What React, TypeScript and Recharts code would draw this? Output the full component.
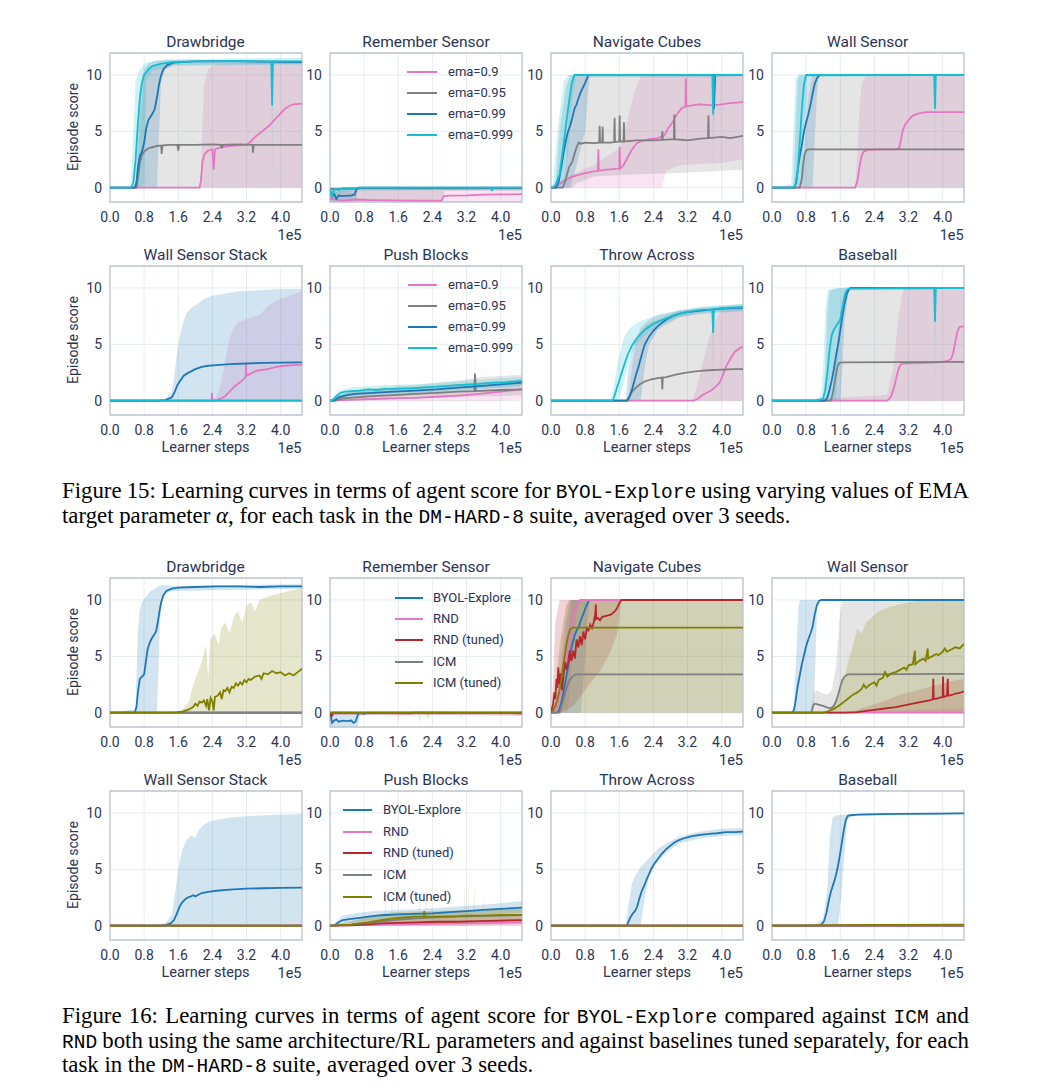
import React from 'react';
import { ComposedChart, Line, Area, XAxis, YAxis, CartesianGrid, ReferenceArea } from 'recharts';

type LP = [number, number][];
type BP = [number, number, number][];

// ---------- categories / tick labels ----------
const X_TICKS = [0, 0.8, 1.6, 2.4, 3.2, 4.0];
const Y_TICKS = [0, 5, 10];
const TITLES = ['Drawbridge', 'Remember Sensor', 'Navigate Cubes', 'Wall Sensor', 'Wall Sensor Stack', 'Push Blocks', 'Throw Across', 'Baseball'];
const EMA_LABELS = ['ema=0.9', 'ema=0.95', 'ema=0.99', 'ema=0.999'];
const METHOD_LABELS = ['BYOL-Explore', 'RND', 'RND (tuned)', 'ICM', 'ICM (tuned)'];
const EMA_COLORS = ['#e377c2', '#7f7f7f', '#1f77b4', '#17becf'];
const METHOD_COLORS = ['#1f77b4', '#e377c2', '#b5272d', '#7f7f7f', '#808000'];

const ZERO_L: LP = [[0, 0], [4.5, 0]];

// ================= Figure 15 =================
// Drawbridge
const DB15_PK: LP = [[0,0],[2.1,0],[2.13,0.6],[2.17,2.4],[2.22,3.0],[2.3,3.3],[2.4,3.4],[2.43,1.6],[2.46,3.4],[2.6,3.6],[2.8,3.7],[3.0,3.75],[3.2,3.8],[3.3,4.1],[3.4,4.5],[3.5,4.8],[3.6,5.1],[3.7,5.4],[3.8,5.8],[3.9,6.2],[4.0,6.6],[4.1,7.0],[4.2,7.25],[4.3,7.4],[4.5,7.45]];
const DB15_PK_B: BP = [[0,0,0],[2.12,0,0],[2.16,0,5],[2.2,0,9],[2.3,0,10.5],[2.5,0,11],[4.5,0,11.1]];
const DB15_GR: LP = [[0,0],[0.62,0],[0.66,1.0],[0.7,2.2],[0.75,2.9],[0.8,3.2],[0.9,3.5],[1.0,3.6],[1.1,3.7],[1.2,3.75],[1.21,3.0],[1.23,3.75],[1.4,3.8],[1.58,3.8],[1.6,3.3],[1.62,3.8],[2.0,3.8],[2.4,3.85],[2.6,3.8],[2.62,3.5],[2.64,3.8],[3.0,3.85],[3.34,3.8],[3.35,3.1],[3.37,3.8],[4.0,3.8],[4.5,3.8]];
const DB15_GR_B: BP = [[0,0,0],[0.62,0,0],[0.7,0,6],[0.8,0,10],[0.9,0,10.8],[1.2,0,11],[4.5,0,11.1]];
const DB15_BL: LP = [[0,0],[0.58,0],[0.62,0.5],[0.66,2.0],[0.7,2.8],[0.75,3.2],[0.8,4.0],[0.85,5.3],[0.9,6.0],[0.95,6.3],[1.0,6.6],[1.05,7.0],[1.1,8.0],[1.15,9.2],[1.2,10.0],[1.25,10.5],[1.35,10.9],[1.5,11.1],[2.0,11.2],[3.0,11.2],[4.5,11.15]];
const DB15_BL_B: BP = [[0,0,0],[0.6,0,0],[0.65,0,5],[0.7,0,9],[0.8,0,10.5],[0.9,0,11],[1.0,0,11.2],[1.1,0,11.3],[1.15,5,11.3],[1.2,9.5,11.3],[1.3,10.5,11.4],[1.5,10.9,11.3],[4.5,11.0,11.3]];
const DB15_CY: LP = [[0,0],[0.5,0],[0.55,0.5],[0.6,2.5],[0.65,5.5],[0.7,8.0],[0.75,9.3],[0.8,10.0],[0.9,10.5],[1.0,10.8],[1.2,11.0],[1.5,11.15],[2.0,11.2],[3.0,11.25],[3.78,11.2],[3.8,7.3],[3.82,11.2],[4.5,11.2]];
const DB15_CY_B: BP = [[0,0,0],[0.48,0,0],[0.55,0,5],[0.6,0,9.5],[0.7,0,10.5],[0.8,0.5,11],[0.85,9.5,11.1],[1.0,10.4,11.2],[1.5,10.8,11.4],[3.78,10.9,11.5],[3.8,0,11.4],[3.82,10.9,11.5],[4.5,10.9,11.5]];

// Remember Sensor
const RS15_PK: LP = [[0,-1.0],[0.3,-1.15],[0.6,-1.05],[1.0,-1.1],[2.0,-1.15],[2.62,-1.15],[2.66,-0.75],[2.8,-0.7],[3.2,-0.68],[3.6,-0.62],[4.0,-0.6],[4.5,-0.58]];
const RS15_PK_B: BP = [[0,-1.3,-0.5],[0.3,-1.3,-0.3],[1.5,-1.3,-0.2],[1.6,-1.3,0],[4.5,-1.3,0]];
const RS15_GR: LP = [[0,-0.1],[0.6,-0.1],[0.7,-0.05],[4.5,-0.05]];
const RS15_GR_B: BP = [[0,-1.3,0],[2.6,-1.3,0],[2.7,-0.3,0],[4.5,-0.3,0]];
const RS15_BL: LP = [[0,-0.3],[0.05,-0.8],[0.1,-0.6],[0.15,-1.0],[0.2,-0.7],[0.3,-0.75],[0.4,-0.7],[0.5,-0.7],[0.58,-0.6],[0.62,-0.1],[0.7,0],[4.5,0]];
const RS15_BL_B: BP = [[0,-1.3,0],[0.6,-1.3,0],[0.65,-0.3,0],[4.5,-0.1,0.05]];
const RS15_CY: LP = [[0,-0.2],[0.05,-0.9],[0.08,-0.3],[0.12,-0.1],[0.2,-0.2],[0.3,-0.05],[0.6,-0.05],[0.65,0],[3.79,0],[3.8,-0.3],[3.81,0],[4.5,0]];
const RS15_CY_B: BP = [[0,-1.0,0],[0.3,-0.4,0.05],[0.65,-0.1,0.05],[4.5,-0.1,0.05]];

// Navigate Cubes
const NC15_PK: LP = [[0,0],[0.1,0.05],[0.2,0.3],[0.3,0.6],[0.45,0.9],[0.6,1.1],[0.8,1.3],[1.0,1.45],[1.1,1.5],[1.11,3.4],[1.12,1.5],[1.3,1.6],[1.45,1.65],[1.6,1.7],[1.61,3.6],[1.62,1.7],[1.7,2.0],[1.8,2.7],[1.9,3.4],[2.0,3.9],[2.1,4.1],[2.3,4.3],[2.5,4.4],[2.65,4.6],[2.75,5.3],[2.85,5.8],[2.95,6.5],[3.05,7.0],[3.15,7.2],[3.16,9.7],[3.17,7.2],[3.3,7.3],[3.5,7.4],[3.8,7.3],[4.0,7.4],[4.2,7.5],[4.5,7.6]];
const NC15_PK_B: BP = [[0,0,0.1],[0.5,0,1.2],[1.0,0,2.0],[1.6,0,3.5],[1.8,0,6.0],[1.95,0,8.5],[2.1,0,9.8],[2.2,0,10],[2.6,0,10],[2.7,1.5,10],[3.0,2.0,10],[3.5,2.1,10],[4.0,2.2,10],[4.5,2.5,10]];
const NC15_GR: LP = [[0,0],[0.28,0],[0.35,0.8],[0.42,1.8],[0.5,2.3],[0.55,3.0],[0.6,3.6],[0.65,4.0],[0.7,3.9],[0.8,4.0],[1.0,3.95],[1.13,4.0],[1.14,5.5],[1.15,4.0],[1.2,4.0],[1.21,5.4],[1.22,4.0],[1.4,4.0],[1.48,4.05],[1.49,6.2],[1.5,4.05],[1.6,4.1],[1.61,6.4],[1.62,4.1],[1.7,4.1],[1.71,5.8],[1.72,4.1],[2.0,4.2],[2.4,4.2],[2.6,4.25],[2.61,5.0],[2.62,4.25],[2.88,4.3],[2.89,6.5],[2.9,4.3],[3.2,4.2],[3.5,4.35],[3.68,4.4],[3.69,6.4],[3.7,4.4],[4.0,4.5],[4.2,4.4],[4.5,4.6]];
const NC15_GR_B: BP = [[0,0,0],[0.28,0,0],[0.35,0,2],[0.42,0,7],[0.5,0,10],[0.6,0.4,10],[1.0,1.0,10],[2.0,1.2,10],[3.0,1.3,10],[4.0,1.5,10],[4.5,1.6,10]];
const NC15_BL: LP = [[0,0],[0.12,0],[0.18,0.5],[0.25,2],[0.3,3.2],[0.35,4.2],[0.4,5.0],[0.45,5.5],[0.5,6.2],[0.55,7.0],[0.6,7.4],[0.65,8.0],[0.7,8.5],[0.8,9.3],[0.88,10],[3.8,10],[3.82,7.0],[3.85,10],[4.5,10]];
const NC15_BL_B: BP = [[0,0,0],[0.1,0,0],[0.2,0,5],[0.35,0,9],[0.45,0,10],[0.6,2,10],[0.8,5,10],[0.9,9.8,10],[3.8,9.8,10.1],[3.82,5,10],[3.85,9.8,10.1],[4.5,9.9,10.1]];
const NC15_CY: LP = [[0,0],[0.05,0],[0.1,0.2],[0.2,1.2],[0.3,4],[0.4,7],[0.48,9.2],[0.55,10],[3.78,10],[3.8,6.5],[3.82,9.8],[3.85,10],[4.5,10]];
const NC15_CY_B: BP = [[0,0,0],[0.05,0,0.5],[0.15,0,5],[0.3,0,9.5],[0.4,3,10],[0.5,8,10],[0.6,9.9,10.1],[3.78,9.9,10.1],[3.8,0.1,10],[3.82,9.9,10.1],[4.5,9.9,10.1]];

// Wall Sensor
const WS15_PK: LP = [[0,0],[1.95,0],[2.0,0.6],[2.05,1.8],[2.1,2.8],[2.15,3.2],[2.25,3.35],[2.5,3.4],[2.9,3.4],[2.98,3.5],[3.02,4.2],[3.06,5.0],[3.12,5.6],[3.2,6.0],[3.3,6.4],[3.45,6.6],[3.6,6.7],[4.5,6.7]];
const WS15_PK_B: BP = [[0,0,0],[1.95,0,0],[2.0,0,3],[2.05,0,7],[2.1,0,9.2],[2.2,0,9.9],[4.5,0,10]];
const WS15_GR: LP = [[0,0],[0.65,0],[0.7,0.8],[0.73,2.0],[0.76,2.9],[0.8,3.3],[0.85,3.4],[4.5,3.4]];
const WS15_GR_B: BP = [[0,0,0],[0.65,0,0],[0.75,0,3],[0.85,0,8],[0.95,0,10],[4.5,0,10]];
const WS15_BL: LP = [[0,0],[0.52,0],[0.57,0.5],[0.6,1.5],[0.65,2.8],[0.7,3.8],[0.75,5.0],[0.8,5.8],[0.85,6.5],[0.9,7.3],[0.95,8.3],[1.0,9.2],[1.05,9.7],[1.12,10],[4.5,10]];
const WS15_BL_B: BP = [[0,0,0],[0.5,0,0],[0.55,0,5],[0.6,0,9.5],[0.65,0,10],[0.95,0,10],[1.0,4,10],[1.05,8,10],[1.1,9.9,10.05],[4.5,9.95,10.05]];
const WS15_CY: LP = [[0,0],[0.5,0],[0.55,0.3],[0.6,1.5],[0.65,4],[0.7,7],[0.75,9.2],[0.8,10],[3.8,10],[3.82,7],[3.84,10],[4.5,10]];
const WS15_CY_B: BP = [[0,0,0],[0.45,0,0.3],[0.5,0,5],[0.55,0,9.5],[0.6,0,10],[0.7,0.5,10.05],[0.75,5,10.05],[0.82,9.8,10.05],[3.8,9.9,10.05],[3.82,1,10],[3.84,9.9,10.05],[4.5,9.9,10.05]];

// Wall Sensor Stack
const WSS15_PK: LP = [[0,0],[2.38,0],[2.39,0.7],[2.4,0],[2.5,0.02],[2.6,0.2],[2.7,0.4],[2.8,0.8],[2.9,1.2],[3.0,1.5],[3.1,1.8],[3.18,2.1],[3.19,3.3],[3.2,2.2],[3.3,2.4],[3.4,2.6],[3.5,2.7],[3.7,2.8],[3.9,3.0],[4.1,3.1],[4.3,3.15],[4.5,3.2]];
const WSS15_PK_B: BP = [[0,0,0],[2.3,0,0],[2.5,0,0.3],[2.6,0,1.5],[2.7,0,3.5],[2.8,0,5.5],[2.9,0,6.5],[3.0,0,7.0],[3.1,0,7.1],[3.3,0,7.4],[3.5,0,7.6],[3.7,0,8.4],[3.9,0,8.9],[4.2,0,9.3],[4.5,0,9.7]];
const WSS15_BL: LP = [[0,0],[1.1,0],[1.3,0.05],[1.45,0.3],[1.52,0.8],[1.58,1.4],[1.65,1.8],[1.72,2.2],[1.8,2.4],[1.9,2.6],[2.0,2.8],[2.15,3.0],[2.3,3.1],[2.5,3.15],[2.8,3.25],[3.2,3.3],[3.6,3.35],[4.0,3.38],[4.5,3.4]];
const WSS15_BL_B: BP = [[0,0,0],[1.1,0,0],[1.3,0,0.2],[1.45,0,0.8],[1.5,0,2.0],[1.58,0,4.5],[1.65,0,6.0],[1.72,0,7.0],[1.8,0,7.8],[1.9,0,8.2],[2.05,0,8.6],[2.2,0,9.0],[2.4,0,9.3],[2.7,0,9.5],[3.0,0,9.7],[3.5,0,9.8],[4.0,0,9.9],[4.5,0,9.9]];

// Push Blocks
const PB15_PK: LP = [[0,0],[0.1,0],[0.3,0.05],[0.6,0.1],[1.0,0.15],[1.5,0.2],[2.0,0.25],[2.5,0.35],[3.0,0.45],[3.5,0.6],[4.0,0.8],[4.5,1.0]];
const PB15_PK_B: BP = [[0,0,0],[0.1,0,0.2],[1.0,0,0.5],[2.0,0,0.6],[3.0,0,0.8],[4.0,0,1.1],[4.5,0.1,1.4]];
const PB15_GR: LP = [[0,0],[0.1,0],[0.3,0.2],[0.6,0.3],[1.0,0.4],[1.5,0.5],[2.0,0.6],[2.5,0.7],[3.0,0.8],[3.38,0.85],[3.4,2.4],[3.42,0.85],[4.0,0.95],[4.5,1.0]];
const PB15_GR_B: BP = [[0,0,0],[0.1,0,0.3],[0.5,0,0.9],[1.0,0.1,1.1],[1.29,0.1,1.2],[1.3,0.1,2.2],[1.31,0.1,1.2],[1.55,0.2,1.3],[1.56,0.2,2.0],[1.57,0.2,1.3],[2.0,0.2,1.4],[2.5,0.3,1.6],[3.0,0.3,1.8],[3.39,0.4,2.0],[3.4,0.4,4.3],[3.41,0.4,2.0],[3.56,0.4,2.1],[3.57,0.4,2.6],[3.58,0.4,2.1],[4.0,0.4,2.2],[4.5,0.5,2.3]];
const PB15_BL: LP = [[0,0],[0.1,0],[0.2,0.3],[0.4,0.5],[0.6,0.6],[0.8,0.65],[1.0,0.7],[1.5,0.8],[2.0,0.9],[2.5,1.0],[3.0,1.15],[3.5,1.3],[4.0,1.45],[4.5,1.6]];
const PB15_BL_B: BP = [[0,0,0],[0.1,0,0.2],[0.4,0.2,0.8],[1.0,0.4,1.0],[2.0,0.6,1.2],[3.0,0.85,1.45],[4.0,1.15,1.75],[4.5,1.3,1.9]];
const PB15_CY: LP = [[0,0],[0.05,0],[0.15,0.4],[0.25,0.7],[0.35,0.8],[0.5,0.85],[0.7,0.9],[0.9,1.0],[1.1,0.95],[1.3,1.05],[1.5,1.05],[1.7,1.1],[1.9,1.1],[2.1,1.15],[2.3,1.2],[2.5,1.25],[2.7,1.3],[2.9,1.35],[3.1,1.4],[3.3,1.45],[3.5,1.5],[3.7,1.55],[3.9,1.6],[4.1,1.6],[4.3,1.7],[4.5,1.75]];
const PB15_CY_B: BP = [[0,0,0],[0.05,0,0.2],[0.2,0.2,0.9],[0.5,0.5,1.2],[1.0,0.6,1.35],[2.0,0.75,1.45],[3.0,1.0,1.7],[4.0,1.2,2.0],[4.5,1.35,2.1]];

// Throw Across
const TA15_PK: LP = [[0,0],[3.35,0],[3.45,0.2],[3.55,0.5],[3.65,0.7],[3.75,0.9],[3.85,1.2],[3.95,1.6],[4.0,2.0],[4.05,2.5],[4.1,3.0],[4.2,3.7],[4.3,4.3],[4.4,4.6],[4.5,4.8]];
const TA15_PK_B: BP = [[0,0,0],[3.3,0,0],[3.4,0,1],[3.5,0,2.5],[3.6,0,4],[3.7,0,5.5],[3.8,0,6.5],[3.9,0,7.5],[4.0,0,8.0],[4.2,0,8.3],[4.5,0,8.4]];
const TA15_GR: LP = [[0,0],[1.8,0],[1.85,0.4],[1.9,0.8],[2.0,1.2],[2.1,1.5],[2.2,1.7],[2.35,1.9],[2.5,2.0],[2.6,2.05],[2.61,1.0],[2.62,2.05],[2.7,2.1],[2.9,2.3],[3.1,2.45],[3.3,2.55],[3.5,2.65],[3.7,2.7],[4.0,2.75],[4.3,2.8],[4.5,2.8]];
const TA15_GR_B: BP = [[0,0,0],[1.8,0,0],[1.9,0,3],[2.0,0,5.5],[2.1,0,6.5],[2.3,0,7.2],[2.5,0,7.6],[3.0,0,8.0],[3.5,0,8.1],[4.5,0,8.2]];
const TA15_BL: LP = [[0,0],[1.78,0],[1.85,0.5],[1.9,1.0],[1.95,1.7],[2.0,2.4],[2.05,3.0],[2.1,3.7],[2.15,4.4],[2.2,5.0],[2.3,5.7],[2.4,6.2],[2.5,6.6],[2.6,6.9],[2.7,7.2],[2.85,7.5],[3.0,7.7],[3.2,7.85],[3.5,8.0],[3.8,8.1],[4.1,8.2],[4.5,8.25]];
const TA15_BL_B: BP = [[0,0,0],[1.75,0,0],[1.8,0,2.5],[1.9,0,4.5],[2.0,0,5.5],[2.1,0,6.2],[2.2,3,6.6],[2.3,5,6.9],[2.5,6.3,7.2],[3.0,7.4,8.0],[3.5,7.7,8.3],[4.5,7.95,8.55]];
const TA15_CY: LP = [[0,0],[1.45,0],[1.5,0.6],[1.55,1.2],[1.6,1.8],[1.7,3.0],[1.8,4.1],[1.9,4.9],[2.0,5.5],[2.1,5.9],[2.2,6.3],[2.35,6.7],[2.5,7.0],[2.7,7.3],[2.9,7.6],[3.1,7.8],[3.3,7.95],[3.5,8.05],[3.78,8.1],[3.8,6.0],[3.82,8.1],[4.0,8.2],[4.2,8.25],[4.5,8.3]];
const TA15_CY_B: BP = [[0,0,0],[1.4,0,0],[1.5,0,2],[1.55,0,3],[1.6,0.3,4],[1.7,1.5,5.5],[1.8,3.0,6.2],[1.9,4.3,6.6],[2.0,5.0,6.9],[2.2,5.8,7.2],[2.5,6.6,7.6],[3.0,7.4,8.0],[3.5,7.8,8.3],[3.78,7.9,8.4],[3.8,0,8.4],[3.82,7.9,8.4],[4.5,8.0,8.6]];

// Baseball
const BB15_PK: LP = [[0,0],[2.7,0],[2.78,0.3],[2.85,1.0],[2.9,1.8],[2.95,2.6],[3.0,3.1],[3.05,3.3],[3.6,3.35],[3.9,3.4],[4.1,3.5],[4.2,3.7],[4.25,4.3],[4.3,5.3],[4.35,6.2],[4.4,6.55],[4.5,6.6]];
const BB15_PK_B: BP = [[0,0,0],[2.7,0,0.5],[2.85,0,3],[2.95,0,7],[3.05,0,9.5],[3.1,0,10],[4.5,0,10]];
const BB15_GR: LP = [[0,0],[1.38,0],[1.42,0.6],[1.46,1.4],[1.5,2.4],[1.54,3.1],[1.58,3.35],[1.65,3.4],[4.5,3.45]];
const BB15_GR_B: BP = [[0,0,0],[1.4,0,0],[1.5,0,4],[1.6,0,8],[1.7,0,9.8],[4.5,0,10]];
const BB15_BL: LP = [[0,0],[1.25,0],[1.3,0.3],[1.35,1.0],[1.4,1.8],[1.45,2.8],[1.5,4.0],[1.55,5.0],[1.6,6.2],[1.65,7.5],[1.7,8.6],[1.75,9.4],[1.8,9.85],[1.85,10],[4.5,10]];
const BB15_BL_B: BP = [[0,0,0],[1.2,0,0],[1.25,0,3],[1.3,0,8],[1.35,0,9.8],[1.6,0,10],[1.65,3,10],[1.7,7,10],[1.8,9.8,10.05],[4.5,9.95,10.05]];
const BB15_CY: LP = [[0,0],[1.0,0],[1.1,0.05],[1.2,0.2],[1.25,1.0],[1.3,2.5],[1.35,4.5],[1.4,5.8],[1.45,6.3],[1.5,6.6],[1.55,6.9],[1.6,7.2],[1.65,8.2],[1.7,9.3],[1.75,9.8],[1.8,9.95],[3.8,10],[3.82,7],[3.84,10],[4.5,10]];
const BB15_CY_B: BP = [[0,0,0],[1.0,0,0],[1.15,0,0.5],[1.2,0,3],[1.25,0,8],[1.3,0,9.8],[1.5,0,10],[1.55,3,10],[1.6,6,10],[1.7,9,10.05],[1.8,9.8,10.05],[3.8,9.9,10.05],[3.82,0.5,10],[3.84,9.9,10.05],[4.5,9.9,10.05]];

// ================= Figure 16 =================
// Drawbridge
const DB16_BY: LP = [[0,0],[0.58,0],[0.62,0.5],[0.66,2.0],[0.7,3.0],[0.75,3.2],[0.8,3.4],[0.84,4.5],[0.88,5.6],[0.93,6.2],[0.98,6.6],[1.03,6.9],[1.08,7.2],[1.12,8.0],[1.16,9.0],[1.2,9.8],[1.25,10.4],[1.32,10.8],[1.45,11.0],[1.6,11.1],[2.0,11.15],[2.5,11.2],[3.0,11.2],[3.5,11.15],[4.0,11.2],[4.5,11.2]];
const DB16_BY_B: BP = [[0,0,0],[0.6,0,0.3],[0.65,0,7],[0.7,0,9.2],[0.75,0,9.8],[0.85,0,10.3],[0.95,0,10.8],[1.1,0,11.1],[1.13,3,11.2],[1.17,8,11.3],[1.22,9.8,11.3],[1.3,10.6,11.3],[1.5,10.8,11.25],[4.5,11.0,11.4]];
const DB16_IT: LP = [[0,0],[1.5,0],[1.7,0.1],[1.85,0.3],[1.95,0.5],[2.0,0.8],[2.05,0.6],[2.1,1.0],[2.15,0.9],[2.2,1.1],[2.25,0.6],[2.28,1.2],[2.32,0.2],[2.36,1.3],[2.4,1.0],[2.43,0.2],[2.46,1.4],[2.52,1.5],[2.58,1.8],[2.62,1.2],[2.66,2.0],[2.7,1.9],[2.75,2.2],[2.8,1.8],[2.85,2.3],[2.9,2.2],[2.95,2.6],[3.0,2.4],[3.05,2.7],[3.1,2.5],[3.15,2.9],[3.2,2.7],[3.25,3.0],[3.3,2.9],[3.4,3.2],[3.5,3.3],[3.55,3.0],[3.6,3.5],[3.7,3.4],[3.8,3.7],[3.9,3.5],[4.0,3.6],[4.1,3.3],[4.2,3.5],[4.3,3.3],[4.4,3.6],[4.5,3.9]];
const DB16_IT_B: BP = [[0,0,0],[1.5,0,0],[1.7,0,0.3],[1.85,0,1.0],[1.95,0,2.5],[2.05,0,3.5],[2.15,0,4.5],[2.25,0,6.0],[2.3,0,3.0],[2.35,0,6.5],[2.45,0,7.0],[2.55,0,6.0],[2.6,0,7.5],[2.7,0,8.0],[2.8,0,7.0],[2.9,0,8.5],[3.0,0,9.0],[3.1,0,8.0],[3.2,0,9.5],[3.3,0,9.8],[3.4,0,9.0],[3.5,0,10.0],[3.7,0,10.3],[3.9,0,10.5],[4.1,0,10.7],[4.3,0,10.9],[4.5,0,11.0]];

// Remember Sensor
const RS16_BY: LP = [[0,0],[0.02,-0.3],[0.05,-0.9],[0.1,-0.7],[0.15,-0.6],[0.2,-0.8],[0.3,-0.7],[0.4,-0.75],[0.5,-0.7],[0.55,-0.9],[0.6,-0.8],[0.65,-0.2],[0.7,0],[0.8,-0.1],[0.85,0],[4.5,0]];
const RS16_BY_B: BP = [[0,-1.3,0],[0.65,-1.3,0],[0.7,-0.3,0],[1.0,-0.1,0.05],[4.5,-0.1,0.05]];
const RS16_RN_B: BP = [[0,-0.2,0.05],[4.5,-0.2,0.05]];
const RS16_RT: LP = [[0,0],[0.04,-0.3],[0.08,0],[1.9,-0.05],[2.0,0],[4.5,-0.05]];
const RS16_RT_B: BP = [[0,-0.6,0.1],[0.1,-0.2,0.05],[1.58,-0.2,0.05],[1.6,-0.7,0],[1.62,-0.2,0],[2.08,-0.2,0],[2.1,-0.9,0],[2.12,-0.2,0],[3.05,-0.2,0],[3.07,-0.5,0],[3.09,-0.2,0],[4.5,-0.3,0]];
const RS16_IT_B: BP = [[0,-0.1,0.05],[2.25,-0.1,0.05],[2.3,-0.6,0.05],[2.35,-0.1,0.05],[4.5,-0.1,0.05]];

// Navigate Cubes
const NC16_BY: LP = [[0,0],[0.15,0],[0.2,0.3],[0.28,1.5],[0.35,3.0],[0.42,4.5],[0.48,5.8],[0.55,6.8],[0.6,7.3],[0.65,7.6],[0.7,8.2],[0.75,8.7],[0.8,9.2],[0.88,9.9],[0.92,10],[4.5,10]];
const NC16_BY_B: BP = [[0,0,0],[0.1,0,0],[0.2,0,3],[0.35,0,8],[0.45,0,10],[0.7,0,10],[0.8,5,10],[0.9,10,10],[4.5,10,10]];
const NC16_RN: LP = [[0,0],[0.1,0.2],[0.2,1.5],[0.3,3.5],[0.4,5.5],[0.45,6.8],[0.5,8.0],[0.55,9.0],[0.62,9.7],[0.68,10],[4.5,10]];
const NC16_RN_B: BP = [[0,0,0],[0.1,0,1],[0.2,0,5],[0.3,0,8],[0.4,0,10],[0.5,5,10],[0.6,9,10],[0.7,10,10],[4.5,10,10]];
const NC16_RT: LP = [[0,0],[0.05,0.8],[0.08,1.8],[0.1,1.2],[0.13,3.0],[0.15,2.2],[0.17,4.0],[0.2,2.5],[0.23,3.5],[0.26,2.0],[0.3,3.6],[0.33,4.5],[0.36,3.8],[0.4,4.4],[0.44,5.5],[0.48,4.6],[0.52,5.5],[0.56,4.8],[0.6,6.5],[0.64,5.8],[0.68,6.8],[0.72,6.0],[0.76,7.2],[0.8,6.5],[0.84,7.5],[0.88,7.3],[0.92,7.8],[0.96,7.5],[1.0,8.0],[1.04,8.8],[1.05,9.6],[1.06,8.3],[1.1,8.4],[1.15,8.2],[1.2,8.5],[1.3,8.6],[1.4,8.7],[1.5,9.0],[1.55,9.3],[1.6,9.7],[1.65,10],[4.5,10]];
const NC16_RT_B: BP = [[0,0,0],[0.05,0,3],[0.1,0,8],[0.2,0,10],[0.5,0.5,10],[0.8,2,10],[1.0,3,10],[1.2,4,10],[1.4,5.5,10],[1.55,7,10],[1.65,10,10],[4.5,10,10]];
const NC16_IC: LP = [[0,0],[0.2,0],[0.28,1.0],[0.35,2.0],[0.42,2.8],[0.5,3.2],[0.58,3.4],[4.5,3.4]];
const NC16_IC_B: BP = [[0,0,0],[0.2,0,0],[0.35,0,6],[0.5,0,10],[4.5,0,10]];
const NC16_IT: LP = [[0,0],[0.05,0.2],[0.1,0.6],[0.15,1.2],[0.2,2.0],[0.25,3.2],[0.3,4.5],[0.35,5.8],[0.4,6.8],[0.45,7.4],[0.5,7.55],[4.5,7.55]];
const NC16_IT_B: BP = [[0,0,0],[0.05,0,1],[0.2,0,6],[0.35,0,9.5],[0.45,0,10],[4.5,0,10]];

// Wall Sensor
const WS16_BY: LP = [[0,0],[0.48,0],[0.52,0.3],[0.56,1.2],[0.6,2.3],[0.65,3.3],[0.7,4.3],[0.75,5.1],[0.8,5.9],[0.85,6.5],[0.9,7.0],[0.95,7.6],[1.0,8.7],[1.05,9.5],[1.1,9.9],[1.15,10],[4.5,10]];
const WS16_BY_B: BP = [[0,0,0],[0.5,0,0],[0.58,0,6],[0.62,0,9.5],[0.66,0,10],[0.98,0,10],[1.02,5,10],[1.06,9.5,10],[1.12,9.9,10.05],[4.5,9.95,10.05]];
const WS16_RN_B: BP = [[0,0,0],[2.0,0,0.1],[4.5,0,0.4]];
const WS16_RT: LP = [[0,0],[1.7,0],[2.0,0.05],[2.3,0.2],[2.6,0.35],[2.9,0.5],[3.1,0.65],[3.3,0.8],[3.5,0.95],[3.7,1.1],[3.77,1.2],[3.78,3.0],[3.79,1.2],[3.9,1.3],[4.0,1.4],[4.01,3.2],[4.02,1.4],[4.1,1.5],[4.12,3.0],[4.13,1.5],[4.2,1.55],[4.3,1.7],[4.4,1.75],[4.5,1.9]];
const WS16_RT_B: BP = [[0,0,0],[1.8,0,0],[2.2,0,0.5],[2.6,0,1.0],[3.0,0,1.6],[3.4,0,2.0],[3.8,0,2.4],[4.2,0,2.8],[4.5,0,3.0]];
const WS16_IC: LP = [[0,0],[0.92,0],[0.96,0.6],[1.0,0.8],[1.05,0.75],[1.1,0.7],[1.2,0.6],[1.3,0.45],[1.38,0.4],[1.45,0.6],[1.5,1.0],[1.55,1.6],[1.6,2.3],[1.65,2.9],[1.7,3.2],[1.78,3.4],[4.5,3.45]];
const WS16_IC_B: BP = [[0,0,0],[0.9,0,0],[0.98,0,1.8],[1.05,0,2.0],[1.15,0,1.8],[1.3,0,1.6],[1.4,0,2.0],[1.5,0,4.0],[1.55,0,6.5],[1.6,0,9.0],[1.65,0,9.9],[1.8,0,10],[4.5,0,10]];
const WS16_IT: LP = [[0,0],[1.2,0],[1.3,0.1],[1.4,0.25],[1.5,0.45],[1.6,0.7],[1.7,1.0],[1.8,1.3],[1.9,1.6],[2.0,1.8],[2.1,2.1],[2.15,2.5],[2.2,2.2],[2.3,2.5],[2.4,2.7],[2.45,2.4],[2.5,2.9],[2.6,3.1],[2.65,3.6],[2.7,3.2],[2.8,3.5],[2.9,3.6],[3.0,3.8],[3.1,4.0],[3.15,3.8],[3.2,4.2],[3.3,4.3],[3.35,5.5],[3.36,4.3],[3.45,4.6],[3.55,4.8],[3.6,4.6],[3.65,5.7],[3.66,4.8],[3.75,5.0],[3.85,5.2],[3.9,5.1],[4.0,5.4],[4.05,5.7],[4.1,5.4],[4.2,5.6],[4.3,5.8],[4.4,5.7],[4.5,6.1]];
const WS16_IT_B: BP = [[0,0,0],[1.2,0,0],[1.4,0,0.5],[1.6,0,2.0],[1.75,0,4.0],[1.9,0,6.0],[2.0,0,7.5],[2.1,0,7.0],[2.2,0,8.0],[2.35,0,8.5],[2.5,0,9.0],[2.7,0,9.3],[2.9,0,9.5],[3.1,0,9.7],[3.4,0,9.9],[3.8,0,10],[4.5,0,10]];

// Wall Sensor Stack
const WSS16_BY: LP = [[0,0],[1.15,0],[1.3,0.05],[1.42,0.2],[1.5,0.5],[1.56,1.0],[1.62,1.6],[1.68,2.0],[1.75,2.3],[1.82,2.5],[1.9,2.6],[1.95,2.7],[2.0,2.6],[2.05,2.7],[2.15,2.9],[2.3,3.0],[2.5,3.1],[2.8,3.2],[3.2,3.28],[3.6,3.32],[4.0,3.35],[4.5,3.38]];
const WSS16_BY_B: BP = [[0,0,0],[1.15,0,0],[1.3,0,0.2],[1.45,0,1.0],[1.55,0,3.5],[1.62,0,5.5],[1.7,0,6.8],[1.8,0,7.6],[1.9,0,8.0],[2.0,0,7.8],[2.05,0,8.3],[2.15,0,8.8],[2.3,0,9.2],[2.5,0,9.4],[2.8,0,9.6],[3.2,0,9.7],[3.6,0,9.8],[4.0,0,9.85],[4.5,0,9.9]];

// Push Blocks
const PB16_BY: LP = [[0,0],[0.1,0],[0.2,0.3],[0.3,0.5],[0.5,0.6],[0.7,0.7],[0.9,0.8],[1.1,0.9],[1.3,0.95],[1.6,1.0],[2.0,1.05],[2.4,1.1],[2.8,1.2],[3.2,1.3],[3.6,1.4],[4.0,1.5],[4.3,1.55],[4.5,1.6]];
const PB16_BY_B: BP = [[0,0,0],[0.1,0,0.2],[0.3,0.2,0.9],[0.6,0.3,1.1],[1.0,0.5,1.3],[2.0,0.7,1.45],[3.0,0.85,1.7],[4.0,1.05,2.0],[4.5,1.15,2.2]];
const PB16_RN: LP = [[0,0],[0.3,0.02],[1,0.08],[2,0.15],[3,0.2],[4,0.25],[4.5,0.3]];
const PB16_RN_B: BP = [[0,0,0],[4.5,0,0.6]];
const PB16_RT: LP = [[0,0],[0.5,0.02],[0.8,0.1],[1.2,0.2],[1.6,0.25],[2.0,0.3],[2.5,0.35],[3.0,0.35],[3.5,0.4],[4.0,0.45],[4.5,0.5]];
const PB16_RT_B: BP = [[0,0,0],[0.5,0,0.2],[1.0,0,0.5],[2.0,0,0.7],[3.0,0,0.8],[4.5,0.1,0.9]];
const PB16_IC: LP = [[0,0],[0.5,0.1],[1.0,0.3],[1.5,0.5],[2.0,0.65],[2.5,0.75],[3.0,0.8],[3.5,0.85],[4.0,0.9],[4.5,0.95]];
const PB16_IC_B: BP = [[0,0,0],[0.5,0,0.4],[1.0,0,0.8],[2.0,0.2,1.2],[3.0,0.3,1.3],[4.5,0.4,1.5]];
const PB16_IT: LP = [[0,0],[0.5,0.1],[0.9,0.3],[1.2,0.5],[1.4,0.6],[1.6,0.7],[1.8,0.75],[2.0,0.8],[2.2,0.8],[2.21,1.3],[2.22,0.8],[2.5,0.8],[3.0,0.85],[3.2,0.9],[3.5,0.9],[4.0,0.95],[4.5,0.95]];
const PB16_IT_B: BP = [[0,0,0],[0.5,0,0.4],[1.0,0,0.9],[1.29,0.1,1.1],[1.3,0.1,2.5],[1.31,0.1,1.1],[1.44,0.1,1.2],[1.45,0.1,3.0],[1.46,0.1,1.2],[2.09,0.2,1.3],[2.1,0.2,2.5],[2.11,0.2,1.3],[2.24,0.2,1.3],[2.25,0.2,4.0],[2.26,0.2,1.3],[3.14,0.3,1.4],[3.15,0.3,3.5],[3.16,0.3,1.4],[3.24,0.3,1.4],[3.25,0.3,3.8],[3.26,0.3,1.4],[3.37,0.3,1.4],[3.38,0.3,4.0],[3.39,0.3,1.4],[3.59,0.3,1.4],[3.6,0.3,2.8],[3.61,0.3,1.4],[4.5,0.3,1.5]];

// Throw Across
const TA16_BY: LP = [[0,0],[1.78,0],[1.82,0.4],[1.87,0.8],[1.92,1.1],[1.97,1.3],[2.02,1.7],[2.07,2.4],[2.12,3.0],[2.18,3.5],[2.24,4.1],[2.3,4.6],[2.36,5.1],[2.42,5.5],[2.5,5.9],[2.6,6.4],[2.7,6.8],[2.8,7.1],[2.9,7.4],[3.0,7.6],[3.15,7.8],[3.3,7.95],[3.5,8.05],[3.7,8.15],[3.9,8.2],[4.1,8.3],[4.3,8.3],[4.5,8.35]];
const TA16_BY_B: BP = [[0,0,0],[1.75,0,0],[1.82,0,2.0],[1.9,0,3.8],[2.0,0,4.6],[2.1,0,5.2],[2.2,2.5,5.6],[2.3,4.3,6.0],[2.4,5.2,6.4],[2.5,5.6,6.8],[2.7,6.5,7.3],[3.0,7.3,7.9],[3.5,7.75,8.35],[4.0,7.95,8.6],[4.5,8.05,8.65]];

// Baseball
const BB16_BY: LP = [[0,0],[1.0,0],[1.15,0.05],[1.22,0.4],[1.28,1.2],[1.33,2.2],[1.38,3.0],[1.43,3.6],[1.48,4.2],[1.53,5.0],[1.58,6.0],[1.63,7.2],[1.68,8.4],[1.73,9.4],[1.78,9.75],[1.85,9.8],[2.0,9.85],[2.5,9.9],[3.0,9.92],[4.0,9.95],[4.5,9.97]];
const BB16_BY_B: BP = [[0,0,0],[0.7,0,0],[1.0,0,0.1],[1.2,0,0.6],[1.3,0,3.5],[1.36,0,8.0],[1.42,0,9.6],[1.5,0,9.8],[1.55,0,9.8],[1.62,2.5,9.82],[1.7,6.5,9.85],[1.76,9.3,9.88],[1.85,9.7,9.9],[4.5,9.9,10.05]];
const BB16_IT: LP = [[0,0],[1.0,0.02],[1.5,0.05],[2.5,0.08],[4.5,0.1]];

// ---------- assembly ----------
interface Series { line: LP; band?: BP; color: string; }
const mk = (colors: string[], items: [LP, BP | undefined][]): Series[] =>
  items.map(([line, band], i) => ({ line, band, color: colors[i] }));

const FIG15: Series[][] = [
  mk(EMA_COLORS, [[DB15_PK, DB15_PK_B], [DB15_GR, DB15_GR_B], [DB15_BL, DB15_BL_B], [DB15_CY, DB15_CY_B]]),
  mk(EMA_COLORS, [[RS15_PK, RS15_PK_B], [RS15_GR, RS15_GR_B], [RS15_BL, RS15_BL_B], [RS15_CY, RS15_CY_B]]),
  mk(EMA_COLORS, [[NC15_PK, NC15_PK_B], [NC15_GR, NC15_GR_B], [NC15_BL, NC15_BL_B], [NC15_CY, NC15_CY_B]]),
  mk(EMA_COLORS, [[WS15_PK, WS15_PK_B], [WS15_GR, WS15_GR_B], [WS15_BL, WS15_BL_B], [WS15_CY, WS15_CY_B]]),
  mk(EMA_COLORS, [[WSS15_PK, WSS15_PK_B], [ZERO_L, undefined], [WSS15_BL, WSS15_BL_B], [ZERO_L, undefined]]),
  mk(EMA_COLORS, [[PB15_PK, PB15_PK_B], [PB15_GR, PB15_GR_B], [PB15_BL, PB15_BL_B], [PB15_CY, PB15_CY_B]]),
  mk(EMA_COLORS, [[TA15_PK, TA15_PK_B], [TA15_GR, TA15_GR_B], [TA15_BL, TA15_BL_B], [TA15_CY, TA15_CY_B]]),
  mk(EMA_COLORS, [[BB15_PK, BB15_PK_B], [BB15_GR, BB15_GR_B], [BB15_BL, BB15_BL_B], [BB15_CY, BB15_CY_B]]),
];

const FIG16: Series[][] = [
  mk(METHOD_COLORS, [[DB16_BY, DB16_BY_B], [ZERO_L, undefined], [ZERO_L, undefined], [ZERO_L, undefined], [DB16_IT, DB16_IT_B]]),
  mk(METHOD_COLORS, [[RS16_BY, RS16_BY_B], [ZERO_L, RS16_RN_B], [RS16_RT, RS16_RT_B], [ZERO_L, undefined], [ZERO_L, RS16_IT_B]]),
  mk(METHOD_COLORS, [[NC16_BY, NC16_BY_B], [NC16_RN, NC16_RN_B], [NC16_RT, NC16_RT_B], [NC16_IC, NC16_IC_B], [NC16_IT, NC16_IT_B]]),
  mk(METHOD_COLORS, [[WS16_BY, WS16_BY_B], [ZERO_L, WS16_RN_B], [WS16_RT, WS16_RT_B], [WS16_IC, WS16_IC_B], [WS16_IT, WS16_IT_B]]),
  mk(METHOD_COLORS, [[WSS16_BY, WSS16_BY_B], [ZERO_L, undefined], [ZERO_L, undefined], [ZERO_L, undefined], [ZERO_L, undefined]]),
  mk(METHOD_COLORS, [[PB16_BY, PB16_BY_B], [PB16_RN, PB16_RN_B], [PB16_RT, PB16_RT_B], [PB16_IC, PB16_IC_B], [PB16_IT, PB16_IT_B]]),
  mk(METHOD_COLORS, [[TA16_BY, TA16_BY_B], [ZERO_L, undefined], [ZERO_L, undefined], [ZERO_L, undefined], [ZERO_L, undefined]]),
  mk(METHOD_COLORS, [[BB16_BY, BB16_BY_B], [ZERO_L, undefined], [ZERO_L, undefined], [ZERO_L, undefined], [BB16_IT, undefined]]),
];

// ---------- layout & style ----------
const COLS = [109.5, 330, 551, 771.7];
const ROWS = [52.7, 265.7, 577.7, 790.7];
const PW = 192;
const PH = 149;
const ML = 50;
const MT = 6;
const YD: [number, number] = [-1.27, 11.95];
const XD: [number, number] = [0, 4.5];
const NAVY = '#2b3452';
const GRID = '#e6edef';
const FRAME = '#bfc6d0';
const FONT = 'Roboto, "Noto Sans", sans-serif';
const TICK = { fontSize: 14, fill: NAVY, fontFamily: FONT };

function Panel({ col, row, title, series }: { col: number; row: number; title: string; series: Series[] }) {
  const L = COLS[col];
  const T = ROWS[row];
  const bottomRow = row === 1 || row === 3;
  return (
    <>
      <div style={{ position: 'absolute', left: L - ML, top: T - MT }}>
        <ComposedChart width={PW + ML + 6} height={PH + MT + 50} margin={{ top: MT, right: 6, bottom: 0, left: 10 }}>
          <CartesianGrid stroke={GRID} strokeWidth={1} />
          <XAxis type="number" dataKey="x" domain={XD} ticks={X_TICKS} allowDataOverflow interval={0}
            tickFormatter={(v: number) => v.toFixed(1)} tickLine={false} axisLine={false}
            tickSize={4} tickMargin={6.5} height={50} tick={TICK} />
          <YAxis type="number" domain={YD} ticks={Y_TICKS} allowDataOverflow interval={0}
            tickLine={false} axisLine={false} width={40} tickSize={4} tickMargin={4} tick={TICK} />
          {series.map((s, i) => s.band ? (
            <Area key={'b' + i} data={s.band.map(([x, lo, hi]) => ({ x, r: [lo, hi] }))} dataKey="r"
              type="linear" stroke="none" fill={s.color} fillOpacity={0.2} dot={false} activeDot={false}
              isAnimationActive={false} />
          ) : null)}
          {series.map((s, i) => (
            <Line key={'l' + i} data={s.line.map(([x, y]) => ({ x, y }))} dataKey="y" type="linear"
              stroke={s.color} strokeWidth={1.8} dot={false} activeDot={false} isAnimationActive={false} />
          ))}
          <ReferenceArea x1={XD[0]} x2={XD[1]} y1={YD[0]} y2={YD[1]} fill="none" stroke={FRAME} strokeWidth={1.3} />
        </ComposedChart>
      </div>
      <div style={{ position: 'absolute', left: L - 20, width: PW + 40, top: T - 11 - 10, height: 20, lineHeight: '20px', textAlign: 'center', fontFamily: FONT, fontSize: 15.5, color: NAVY, whiteSpace: 'nowrap' }}>{title}</div>
      <div style={{ position: 'absolute', left: L + PW - 60, width: 60, top: T + PH + 34 - 10, height: 20, lineHeight: '20px', textAlign: 'right', fontFamily: FONT, fontSize: 14.5, color: NAVY }}>1e5</div>
      {bottomRow && (
        <div style={{ position: 'absolute', left: L - 20, width: PW + 40, top: T + PH + 33 - 10, height: 20, lineHeight: '20px', textAlign: 'center', fontFamily: FONT, fontSize: 14.5, color: NAVY }}>Learner steps</div>
      )}
      {col === 0 && (
        <div style={{ position: 'absolute', left: 73 - 60, width: 120, top: T + PH / 2 - 10, height: 20, lineHeight: '20px', textAlign: 'center', fontFamily: FONT, fontSize: 14, color: NAVY, transform: 'rotate(-90deg)', whiteSpace: 'nowrap' }}>Episode score</div>
      )}
    </>
  );
}

function Legend({ labels, colors, x1, x2, tx, ys }: { labels: string[]; colors: string[]; x1: number; x2: number; tx: number; ys: number[] }) {
  return (
    <>
      {labels.map((lab, i) => (
        <React.Fragment key={lab}>
          <div style={{ position: 'absolute', left: x1, width: x2 - x1, top: ys[i] - 1, height: 2, background: colors[i] }} />
          <div style={{ position: 'absolute', left: tx, top: ys[i] - 9, height: 18, lineHeight: '18px', fontFamily: FONT, fontSize: 13, color: NAVY, whiteSpace: 'nowrap' }}>{lab}</div>
        </React.Fragment>
      ))}
    </>
  );
}

const SERIF = '"Liberation Serif", "Times New Roman", serif';
const MONO: React.CSSProperties = { fontFamily: '"Liberation Mono", monospace', fontSize: 19.5 };
const CAP_SIZE = 22.8;

function JustLine({ top, words }: { top: number; words: React.ReactNode[] }) {
  return (
    <div style={{ position: 'absolute', left: 62, width: 907, top: top - 12.5, height: 25, lineHeight: '25px', display: 'flex', justifyContent: 'space-between', fontFamily: SERIF, fontSize: CAP_SIZE, color: '#000', whiteSpace: 'nowrap' }}>
      {words.map((w, i) => <span key={i}>{w}</span>)}
    </div>
  );
}
function PlainLine({ top, children }: { top: number; children: React.ReactNode }) {
  return (
    <div style={{ position: 'absolute', left: 62, top: top - 12.5, height: 25, lineHeight: '25px', fontFamily: SERIF, fontSize: CAP_SIZE, color: '#000', whiteSpace: 'nowrap' }}>{children}</div>
  );
}
const split = (s: string) => s.split(' ');

export default function App() {
  return (
    <div style={{ position: 'absolute', left: 0, top: 0, width: 1041, height: 1092, background: '#fff', overflow: 'hidden' }}>
      {FIG15.map((s, i) => <Panel key={'a' + i} col={i % 4} row={Math.floor(i / 4)} title={TITLES[i]} series={s} />)}
      {FIG16.map((s, i) => <Panel key={'b' + i} col={i % 4} row={2 + Math.floor(i / 4)} title={TITLES[i]} series={s} />)}
      <Legend labels={EMA_LABELS} colors={EMA_COLORS} x1={407} x2={437} tx={448} ys={[71.7, 92.7, 113.6, 135]} />
      <Legend labels={EMA_LABELS} colors={EMA_COLORS} x1={408} x2={437} tx={448} ys={[284.5, 305.7, 327, 348]} />
      <Legend labels={METHOD_LABELS} colors={METHOD_COLORS} x1={395} x2={423} tx={433} ys={[597.7, 618.6, 640, 661.6, 683.2]} />
      <Legend labels={METHOD_LABELS} colors={METHOD_COLORS} x1={343} x2={372} tx={383} ys={[810, 831.6, 853.2, 874.8, 896.5]} />

      <JustLine top={490} words={[...split('Figure 15: Learning curves in terms of agent score for'), <span style={MONO}>BYOL-Explore</span>, ...split('using varying values of EMA')]} />
      <PlainLine top={515.5}>target parameter <i>α</i>, for each task in the <span style={MONO}>DM-HARD-8</span> suite, averaged over 3 seeds.</PlainLine>

      <JustLine top={1015} words={[...split('Figure 16: Learning curves in terms of agent score for'), <span style={MONO}>BYOL-Explore</span>, ...split('compared against'), <span style={MONO}>ICM</span>, 'and']} />
      <JustLine top={1040} words={[<span style={MONO}>RND</span>, ...split('both using the same architecture/RL parameters and against baselines tuned separately, for each')]} />
      <PlainLine top={1064.5}>task in the <span style={MONO}>DM-HARD-8</span> suite, averaged over 3 seeds.</PlainLine>
    </div>
  );
}
